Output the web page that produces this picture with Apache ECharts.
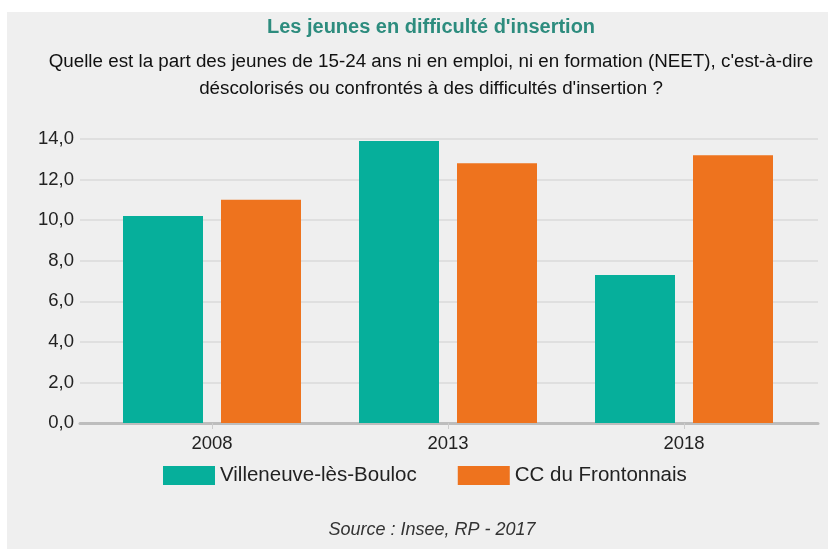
<!DOCTYPE html>
<html>
<head>
<meta charset="utf-8">
<script src="https://cdn.jsdelivr.net/npm/echarts@6/dist/echarts.min.js"></script>
<style>
    html, body { margin: 0; padding: 0; background: #fff; }
    #chart { width: 828px; height: 549px; }
</style>
</head>
<body>
<div id="chart"></div>
<script>
// données
var years = ['2008', '2013', '2018'];
var villeneuve = [10.2, 13.9, 7.3];
var frontonnais = [11.0, 12.8, 13.2];
var seriesNames = ['Villeneuve-lès-Bouloc', 'CC du Frontonnais'];
var colors = ['#06AF9B', '#EE731E'];

var font = "'Liberation Sans', Arial, sans-serif";

var myChart = echarts.init(document.getElementById('chart'));
var option = {
    backgroundColor: '#fff',
    color: colors,
    animation: false,
    textStyle: { fontFamily: font },
    graphic: [
        {
            type: 'rect', z: -10, silent: true,
            shape: { x: 7, y: 12, width: 821, height: 537 },
            style: { fill: '#EFEFEF' }
        },
        {
            type: 'text',
            style: {
                x: 431, y: 27, text: "Les jeunes en difficulté d'insertion",
                align: 'center', verticalAlign: 'middle',
                font: 'bold 20px ' + font, fill: '#2D8C7E'
            }
        },
        {
            type: 'text',
            style: {
                x: 431, y: 75.5,
                text: "Quelle est la part des jeunes de 15-24 ans ni en emploi, ni en formation (NEET), c'est-à-dire\ndéscolorisés ou confrontés à des difficultés d'insertion ?",
                align: 'center', verticalAlign: 'middle', lineHeight: 27,
                font: '18.8px ' + font, fill: '#111'
            }
        },
        {
            type: 'text',
            style: {
                x: 432, y: 530, text: 'Source : Insee, RP - 2017',
                align: 'center', verticalAlign: 'middle',
                font: 'italic 18px ' + font, fill: '#333'
            }
        }
    ],
    legend: {
        left: 163,
        top: 465,
        padding: 0,
        itemWidth: 52,
        itemHeight: 19,
        itemGap: 41,
        icon: 'rect',
        textStyle: { fontSize: 20.5, color: '#222', fontFamily: font },
        data: seriesNames
    },
    grid: [
        { left: 80, right: 10, top: 139, bottom: 126 },
        { left: 94, right: 26, top: 139, bottom: 126 }
    ],
    xAxis: [
        {
            gridIndex: 0,
            type: 'category',
            data: [''],
            axisLine: { lineStyle: { color: '#BDBDBD', width: 3 } },
            axisTick: { show: false },
            axisLabel: { show: false }
        },
        {
            gridIndex: 1,
            type: 'category',
            data: years,
            axisLine: { show: false },
            axisTick: { show: true, alignWithLabel: true, length: 6, lineStyle: { color: '#CCCCCC' } },
            axisLabel: { margin: 11, fontSize: 18.5, color: '#222', fontFamily: font }
        }
    ],
    yAxis: [
        {
            gridIndex: 0,
            type: 'value',
            min: 0,
            max: 14,
            interval: 2,
            axisLine: { show: false },
            axisTick: { show: false },
            axisLabel: {
                margin: 6, fontSize: 18.5, color: '#222', fontFamily: font,
                formatter: function (v) { return v.toFixed(1).replace('.', ','); }
            },
            splitLine: { show: true, lineStyle: { color: '#DADADA', width: 1.5 } }
        },
        {
            gridIndex: 1,
            type: 'value',
            min: 0,
            max: 14,
            interval: 2,
            show: false,
            splitLine: { show: false }
        }
    ],
    series: [
        {
            name: seriesNames[0],
            type: 'bar',
            xAxisIndex: 1,
            yAxisIndex: 1,
            barWidth: 80,
            barGap: '22.5%',
            data: villeneuve
        },
        {
            name: seriesNames[1],
            type: 'bar',
            xAxisIndex: 1,
            yAxisIndex: 1,
            barWidth: 80,
            data: frontonnais
        }
    ]
};
myChart.setOption(option);
</script>
</body>
</html>
